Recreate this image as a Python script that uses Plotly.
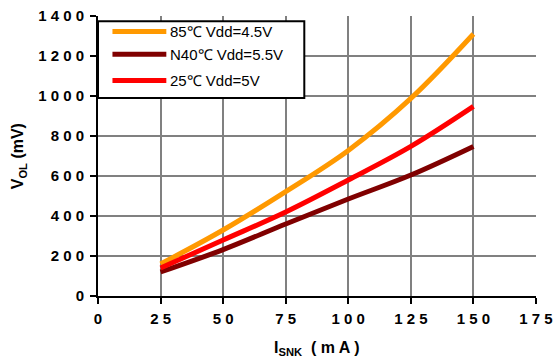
import plotly.graph_objects as go

# ---- data ----
isnk_ma = [25, 50, 75, 100, 125, 150]
vol_85c = [160, 330, 522, 728, 988, 1310]
vol_n40c = [120, 232, 360, 485, 605, 748]
vol_25c = [140, 280, 420, 580, 748, 948]

series_names = ["85\u2103 Vdd=4.5V", "N40\u2103 Vdd=5.5V", "25\u2103 Vdd=5V"]
series_values = [vol_85c, vol_n40c, vol_25c]
series_colors = ["#FF9900", "#800000", "#FF0000"]

x_ticks = [0, 25, 50, 75, 100, 125, 150, 175]
y_ticks = [0, 200, 400, 600, 800, 1000, 1200, 1400]


def spaced(s):
    return " ".join(list(s))


fig = go.Figure()
for name, vals, col in zip(series_names, series_values, series_colors):
    fig.add_trace(go.Scatter(
        x=isnk_ma, y=vals, name=name, mode="lines",
        line=dict(color=col, width=5, shape="spline", smoothing=1.0),
        showlegend=False,
    ))

FAM = "Liberation Sans, Arial, sans-serif"
font_bold = dict(family=FAM, size=15, color="black", weight="bold")

fig.update_layout(
    width=553, height=362,
    margin=dict(l=98, r=17, t=16, b=66),
    paper_bgcolor="white", plot_bgcolor="white",
    font=dict(family=FAM, size=13, color="black"),
)

fig.update_xaxes(
    range=[0, 175], tickvals=x_ticks, ticktext=[spaced(str(v)) for v in x_ticks],
    tickfont=font_bold, showgrid=True, gridcolor="#808080", gridwidth=1.5,
    showline=True, linecolor="black", linewidth=2,
    ticks="outside", ticklen=6, tickwidth=2, tickcolor="black",
    zeroline=False, automargin=False, ticklabelstandoff=2,
)
fig.update_yaxes(
    range=[0, 1400], tickvals=y_ticks, ticktext=[spaced(str(v)) for v in y_ticks],
    tickfont=font_bold, showgrid=True, gridcolor="#808080", gridwidth=1.5,
    showline=True, linecolor="black", linewidth=2,
    ticks="outside", ticklen=6, tickwidth=2, tickcolor="black",
    zeroline=False, automargin=False, ticklabelstandoff=3,
)

# ---- axis titles ----
title_font = dict(family=FAM, size=16, color="black", weight="bold")
fig.add_annotation(xref="paper", yref="paper", x=-0.182, y=0.5, textangle=-90,
                   text="V<sub>OL</sub> (mV)", showarrow=False,
                   xanchor="center", yanchor="middle", font=title_font)
fig.add_annotation(xref="paper", yref="paper", x=0.5, y=-0.188,
                   text="I<sub>SNK</sub>  " + spaced("(mA)"), showarrow=False,
                   xanchor="center", yanchor="middle", font=title_font)

# ---- legend box drawn like the reference (upper-left, black frame) ----
fig.add_shape(type="rect", xref="paper", yref="paper", x0=0, x1=0.471, y0=0.707, y1=0.981,
              line=dict(color="black", width=2), fillcolor="white", layer="above")
legend_rows = [0.945, 0.863, 0.770]
for name, col, yy in zip(series_names, series_colors, legend_rows):
    fig.add_shape(type="line", xref="paper", yref="paper", x0=0.033, x1=0.156, y0=yy, y1=yy,
                  line=dict(color=col, width=5), layer="above")
    fig.add_annotation(xref="paper", yref="paper", x=0.159, y=yy, text=name, showarrow=False,
                       xanchor="left", yanchor="middle",
                       font=dict(family=FAM, size=15, color="black"))

fig.write_html("out.html", config={"displayModeBar": False},
               post_script="document.body.style.margin='0px';")
